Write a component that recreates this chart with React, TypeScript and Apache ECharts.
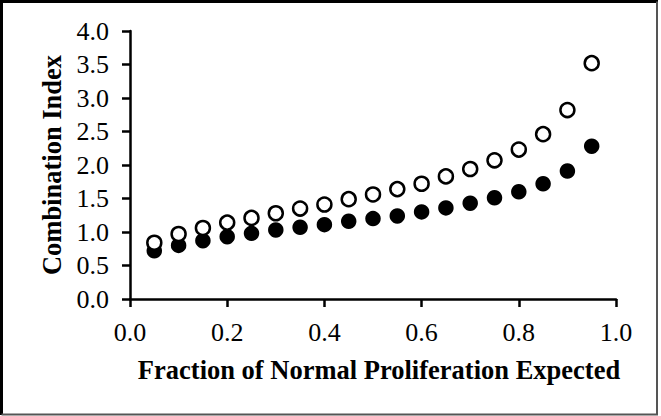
import React, { useEffect, useRef } from "react";
import * as echarts from "echarts";

const fractions = [0.05, 0.1, 0.15, 0.2, 0.25, 0.3, 0.35, 0.4, 0.45, 0.5, 0.55, 0.6, 0.65, 0.7, 0.75, 0.8, 0.85, 0.9, 0.95];
const openValues = [0.84, 0.97, 1.06, 1.14, 1.21, 1.28, 1.35, 1.41, 1.49, 1.56, 1.64, 1.72, 1.83, 1.94, 2.07, 2.23, 2.46, 2.82, 3.52];
const filledValues = [0.72, 0.8, 0.87, 0.93, 0.98, 1.03, 1.07, 1.11, 1.16, 1.2, 1.24, 1.3, 1.36, 1.43, 1.51, 1.6, 1.72, 1.91, 2.28];
const xTitle = "Fraction of Normal Proliferation Expected";
const yTitle = "Combination Index";

const FONT = '"Liberation Serif", "Times New Roman", serif';

export default function App() {
  const ref = useRef<HTMLDivElement>(null);
  useEffect(() => {
    if (!ref.current) return;
    const chart = echarts.init(ref.current, undefined, { renderer: "svg" });
    const axisCommon = {
      axisLine: { show: true, onZero: false, lineStyle: { color: "#000", width: 2.5 } },
      axisTick: { show: true, inside: false, length: 8, lineStyle: { color: "#000", width: 2.5 } },
      splitLine: { show: false },
    };
    chart.setOption({
      animation: false,
      backgroundColor: "#fff",
      grid: { left: 130, right: 45, top: 31, bottom: 117 },
      xAxis: {
        type: "value",
        min: 0,
        max: 1,
        interval: 0.2,
        ...axisCommon,
        axisLabel: {
          color: "#000",
          fontFamily: FONT,
          fontSize: 26,
          margin: 20,
          formatter: (v: number) => v.toFixed(1),
        },
      },
      yAxis: {
        type: "value",
        min: 0,
        max: 4,
        interval: 0.5,
        ...axisCommon,
        axisLabel: {
          color: "#000",
          fontFamily: FONT,
          fontSize: 26,
          margin: 21,
          formatter: (v: number) => v.toFixed(1),
        },
      },
      graphic: [
        {
          type: "text",
          x: 379,
          y: 370,
          style: {
            text: xTitle,
            font: `bold 26.5px ${FONT}`,
            fill: "#000",
            align: "center",
            verticalAlign: "middle",
          },
        },
        {
          type: "text",
          x: 52,
          y: 165,
          rotation: Math.PI / 2,
          style: {
            text: yTitle,
            font: `bold 26.5px ${FONT}`,
            fill: "#000",
            align: "center",
            verticalAlign: "middle",
          },
        },
        {
          type: "polyline",
          shape: { points: [[1.5, 415], [1.5, 1.5], [658, 1.5]] },
          style: { stroke: "#000", lineWidth: 3, fill: null },
        },
        {
          type: "polyline",
          shape: { points: [[657, 1.5], [657, 414.5], [1.5, 414.5]] },
          style: { stroke: "#555", lineWidth: 2, fill: null },
        },
      ],
      series: [
        {
          type: "scatter",
          data: fractions.map((f, i) => [f, filledValues[i]]),
          symbol: "circle",
          symbolSize: 15.5,
          itemStyle: { color: "#000", opacity: 1 },
          z: 2,
        },
        {
          type: "scatter",
          data: fractions.map((f, i) => [f, openValues[i]]),
          symbol: "circle",
          symbolSize: 14,
          itemStyle: { color: "#fff", borderColor: "#000", borderWidth: 2.5, opacity: 1 },
          z: 3,
        },
      ],
    });
    return () => chart.dispose();
  }, []);
  return (
    <div
      ref={ref}
      style={{ position: "absolute", left: 0, top: 0, width: 661, height: 416 }}
    />
  );
}
